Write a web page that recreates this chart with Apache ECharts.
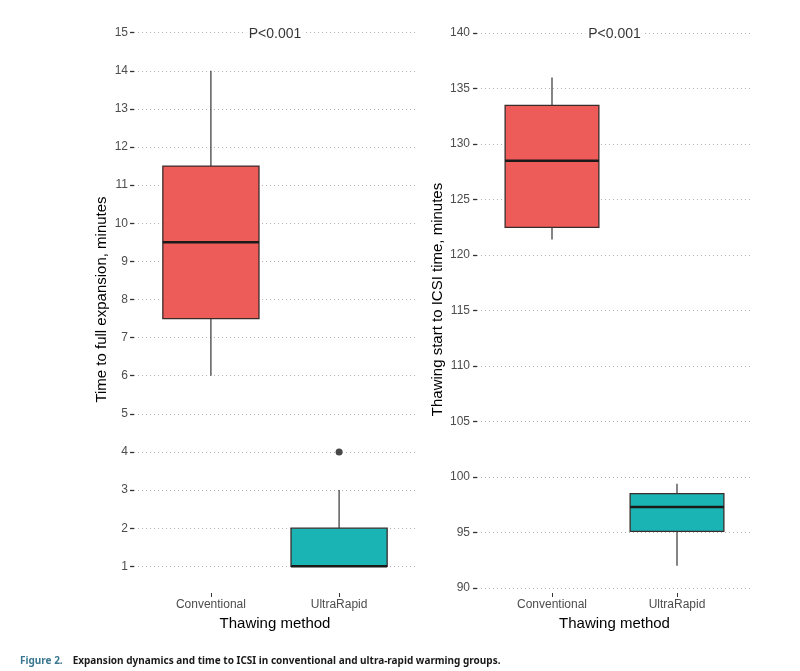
<!DOCTYPE html>
<html>
<head>
<meta charset="utf-8">
<script src="https://cdn.jsdelivr.net/npm/echarts@6/dist/echarts.min.js"></script>
<title>Thawing method boxplots</title>
</head>
<body style="margin:0; background:#fff">
<div id="container" style="width:800px; height:671px"></div>
<script type="text/javascript">

const categories = ['Conventional', 'UltraRapid'];
const boxColors = ['#EE5C5A', '#1BB4B4'];

// time to full expansion, minutes
const expMin = [6, 1];
const expQ1 = [7.5, 1];
const expMed = [9.5, 1];
const expQ3 = [11.5, 2];
const expMax = [14, 3];
const expOutliers = [[2, 4]];
const expTicks = [1, 2, 3, 4, 5, 6, 7, 8, 9, 10, 11, 12, 13, 14, 15];

// thawing start to ICSI, minutes
const icsiMin = [121.4, 92];
const icsiQ1 = [122.5, 95.1];
const icsiMed = [128.5, 97.3];
const icsiQ3 = [133.5, 98.5];
const icsiMax = [136, 99.4];
const icsiTicks = [90, 95, 100, 105, 110, 115, 120, 125, 130, 135, 140];

const pLabel = 'P<0.001';

const font = 'Liberation Sans';

function boxRows(mn, q1, md, q3, mx) {
    return categories.map((c, i) => [i + 1, mn[i], q1[i], md[i], q3[i], mx[i]]);
}

function boxItem(params, api) {
    let x = api.value(0);
    let half = 0.375;
    let pMin = api.coord([x, api.value(1)]);
    let pQ1 = api.coord([x, api.value(2)]);
    let pMed = api.coord([x, api.value(3)]);
    let pQ3 = api.coord([x, api.value(4)]);
    let pMax = api.coord([x, api.value(5)]);
    let left = api.coord([x - half, api.value(3)])[0];
    let right = api.coord([x + half, api.value(3)])[0];
    let wStyle = {stroke: '#333', lineWidth: 1.2};
    return {
        type: 'group',
        children: [
            {type: 'line', shape: {x1: pMin[0], y1: pMin[1], x2: pQ1[0], y2: pQ1[1]}, style: wStyle},
            {type: 'line', shape: {x1: pQ3[0], y1: pQ3[1], x2: pMax[0], y2: pMax[1]}, style: wStyle},
            {type: 'rect', shape: {x: left, y: pQ3[1], width: right - left, height: pQ1[1] - pQ3[1]},
             style: {fill: boxColors[x - 1], stroke: '#3a2c2c', lineWidth: 1.3}},
            {type: 'line', shape: {x1: left, y1: pMed[1], x2: right, y2: pMed[1]},
             style: {stroke: '#1a1a1a', lineWidth: 2.6}}
        ]
    };
}

function makeX(gi) {
    return {
        type: 'value', gridIndex: gi, min: 0.4, max: 2.6,
        name: 'Thawing method', nameLocation: 'middle', nameGap: 20,
        nameTextStyle: {fontFamily: font, fontSize: 15, color: '#000'},
        axisLine: {show: false},
        splitLine: {show: false},
        axisTick: {show: true, length: 4, customValues: [1, 2], lineStyle: {color: '#333'}},
        axisLabel: {customValues: [1, 2], formatter: v => categories[v - 1], margin: 6,
                    fontFamily: font, fontSize: 12, color: '#4d4d4d'}
    };
}

function makeY(gi, min, max, ticks, name, gap, margin) {
    return {
        type: 'value', gridIndex: gi, min: min, max: max,
        name: name, nameLocation: 'middle', nameGap: gap,
        nameTextStyle: {fontFamily: font, fontSize: 15, color: '#000'},
        axisLine: {show: false},
        axisTick: {show: true, length: 4, customValues: ticks, lineStyle: {color: '#333', width: 1.3}},
        axisLabel: {customValues: ticks, margin: margin, fontFamily: font, fontSize: 12, color: '#4d4d4d'},
        splitLine: {show: true, lineStyle: {type: [1, 3], color: '#b0b0b0', width: 1.2}}
    };
}

function pSeries(gi, y) {
    return {
        type: 'scatter', xAxisIndex: gi, yAxisIndex: gi,
        data: [[1.5, y]], symbolSize: 1, itemStyle: {color: 'transparent'},
        label: {show: true, position: 'inside', formatter: pLabel, fontFamily: font, fontSize: 14,
                color: '#000', backgroundColor: '#fff', padding: [0, 3], offset: [0, 1]},
        silent: true, z: 5
    };
}

let chart = echarts.init(document.getElementById('container'));
chart.setOption({
    backgroundColor: '#fff',
    animation: false,
    title: {
        left: 20, top: 652, padding: 0,
        text: '{a|Figure 2.}  {b|Expansion dynamics and time to ICSI in conventional and ultra-rapid warming groups.}',
        textStyle: {
            rich: {
                a: {fontFamily: 'Noto Sans', fontWeight: 'bold', fontSize: 10, color: '#3b7890'},
                b: {fontFamily: 'Noto Sans', fontWeight: 'bold', fontSize: 10, color: '#1a1a1a'}
            }
        }
    },
    grid: [
        {left: 134, right: 384, top: 6, bottom: 78},
        {left: 477, right: 48, top: 6, bottom: 78}
    ],
    xAxis: [makeX(0), makeX(1)],
    yAxis: [
        makeY(0, 0.3, 15.7, expTicks, 'Time to full expansion, minutes', 25, 6),
        makeY(1, 89.55, 142.45, icsiTicks, 'Thawing start to ICSI time, minutes', 32, 7)
    ],
    series: [
        {
            type: 'custom', xAxisIndex: 0, yAxisIndex: 0,
            data: boxRows(expMin, expQ1, expMed, expQ3, expMax),
            encode: {x: 0, y: [1, 2, 3, 4, 5]},
            renderItem: boxItem, z: 3
        },
        {
            type: 'scatter', xAxisIndex: 0, yAxisIndex: 0,
            data: expOutliers, symbolSize: 7, itemStyle: {color: '#1a1a1a'}, z: 4
        },
        {
            type: 'custom', xAxisIndex: 1, yAxisIndex: 1,
            data: boxRows(icsiMin, icsiQ1, icsiMed, icsiQ3, icsiMax),
            encode: {x: 0, y: [1, 2, 3, 4, 5]},
            renderItem: boxItem, z: 3
        },
        pSeries(0, 15),
        pSeries(1, 140)
    ]
});

</script>
</body>
</html>
